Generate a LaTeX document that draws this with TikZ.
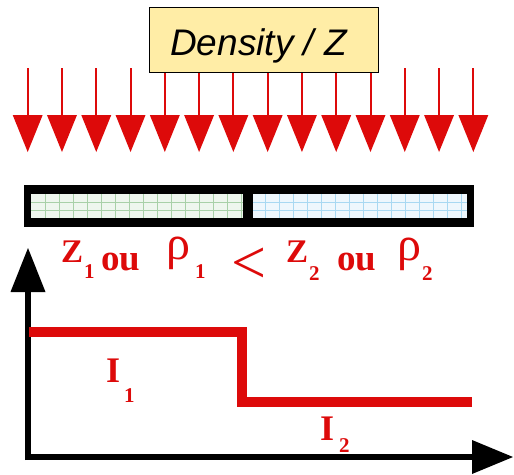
\documentclass[tikz,border=0pt]{standalone}
\usepackage{fontspec}
\setmainfont{Liberation Serif}
\newfontfamily\boxfont{Liberation Sans}
\definecolor{myred}{HTML}{DD0A0A}
\definecolor{boxyellow}{HTML}{FFEDA6}
\definecolor{gfill}{HTML}{EEF6EE}
\definecolor{ggrid}{HTML}{A8D0A8}
\definecolor{bfill}{HTML}{EEF7FD}
\definecolor{bgrid}{HTML}{A8D8F2}
\begin{document}
\begin{tikzpicture}[x=1pt,y=-1pt,
  redtxt/.style={text=myred,font=\bfseries\fontsize{37}{40}\selectfont,inner sep=0pt,anchor=base west},
  ztxt/.style={redtxt,font=\bfseries\fontsize{33}{36}\selectfont},
  rhotxt/.style={text=myred,font=\fontsize{48}{50}\selectfont,inner sep=0pt,anchor=base west},
  subtxt/.style={text=myred,font=\bfseries\fontsize{21}{24}\selectfont,inner sep=0pt,anchor=base west},
  axisline/.style={line width=6pt,black},
  stepline/.style={line width=10pt,myred,line join=miter}]
\useasboundingbox (0,0) rectangle (514,474);
% falling arrows
\foreach \i in {0,...,13}{
  \pgfmathsetmacro{\xx}{27.7+34.28*\i}
  \draw[myred,line width=2pt] (\xx,68) -- (\xx,118);
  \fill[myred] (\xx-15,115) -- (\xx+15,115) -- (\xx,152) -- cycle;
}
% title box
\node[draw=black,line width=1.3pt,fill=boxyellow,minimum width=229pt,minimum height=65pt,anchor=north west,inner sep=0pt] (title) at (149,7) {};
\node[font=\boxfont\itshape\fontsize{37}{40}\selectfont,inner sep=0pt,anchor=base west] (titletext) at (170,55) {Density / Z};
% bar
\fill[black] (24,185) rectangle (474,227);
\fill[gfill] (31,194) rectangle (243,218);
\fill[bfill] (253,194) rectangle (467,218);
\begin{scope}
\clip (31,194) rectangle (243,218);
\foreach \x in {45,59,...,243} \draw[ggrid,line width=0.6pt] (\x,194) -- (\x,218);
\draw[ggrid,line width=0.6pt] (31,202) -- (243,202) (31,210) -- (243,210);
\end{scope}
\begin{scope}
\clip (253,194) rectangle (467,218);
\foreach \x in {265,279,...,467} \draw[bgrid,line width=0.6pt] (\x,194) -- (\x,218);
\draw[bgrid,line width=0.6pt] (253,202) -- (467,202) (253,210) -- (467,210);
\end{scope}
% label
\node[ztxt] (z1) at (61,262) {Z};
\node[subtxt] (z1s) at (84,278) {1};
\node[redtxt] (ou1) at (101,270) {ou};
\node[rhotxt] (rho1) at (166,259) {ρ};
\node[subtxt] (rho1s) at (195,278) {1};
\node[text=myred,font=\fontsize{62}{64}\selectfont,inner sep=0pt,anchor=base west] (lt) at (231,283) {<};
\node[ztxt] (z2) at (286,262) {Z};
\node[subtxt] (z2s) at (309,280) {2};
\node[redtxt] (ou2) at (337,270) {ou};
\node[rhotxt] (rho2) at (397,260) {ρ};
\node[subtxt] (rho2s) at (422,280) {2};
% axes
\draw[axisline] (28,460) -- (28,288);
\fill[black] (28,248) -- (45.5,292) -- (10.5,292) -- cycle;
\draw[axisline] (25,457) -- (474,457);
\fill[black] (513,457) -- (472,440) -- (472,474) -- cycle;
% step
\draw[stepline] (29,332) -- (242,332) -- (242,402) -- (472,402);
% I labels
\node[redtxt,font=\bfseries\fontsize{36}{40}\selectfont] (i1) at (106,382) {I};
\node[subtxt] (i1s) at (124,402) {1};
\node[redtxt,font=\bfseries\fontsize{36}{40}\selectfont] (i2) at (320,440) {I};
\node[subtxt] (i2s) at (339,452) {2};
\end{tikzpicture}
\end{document}
